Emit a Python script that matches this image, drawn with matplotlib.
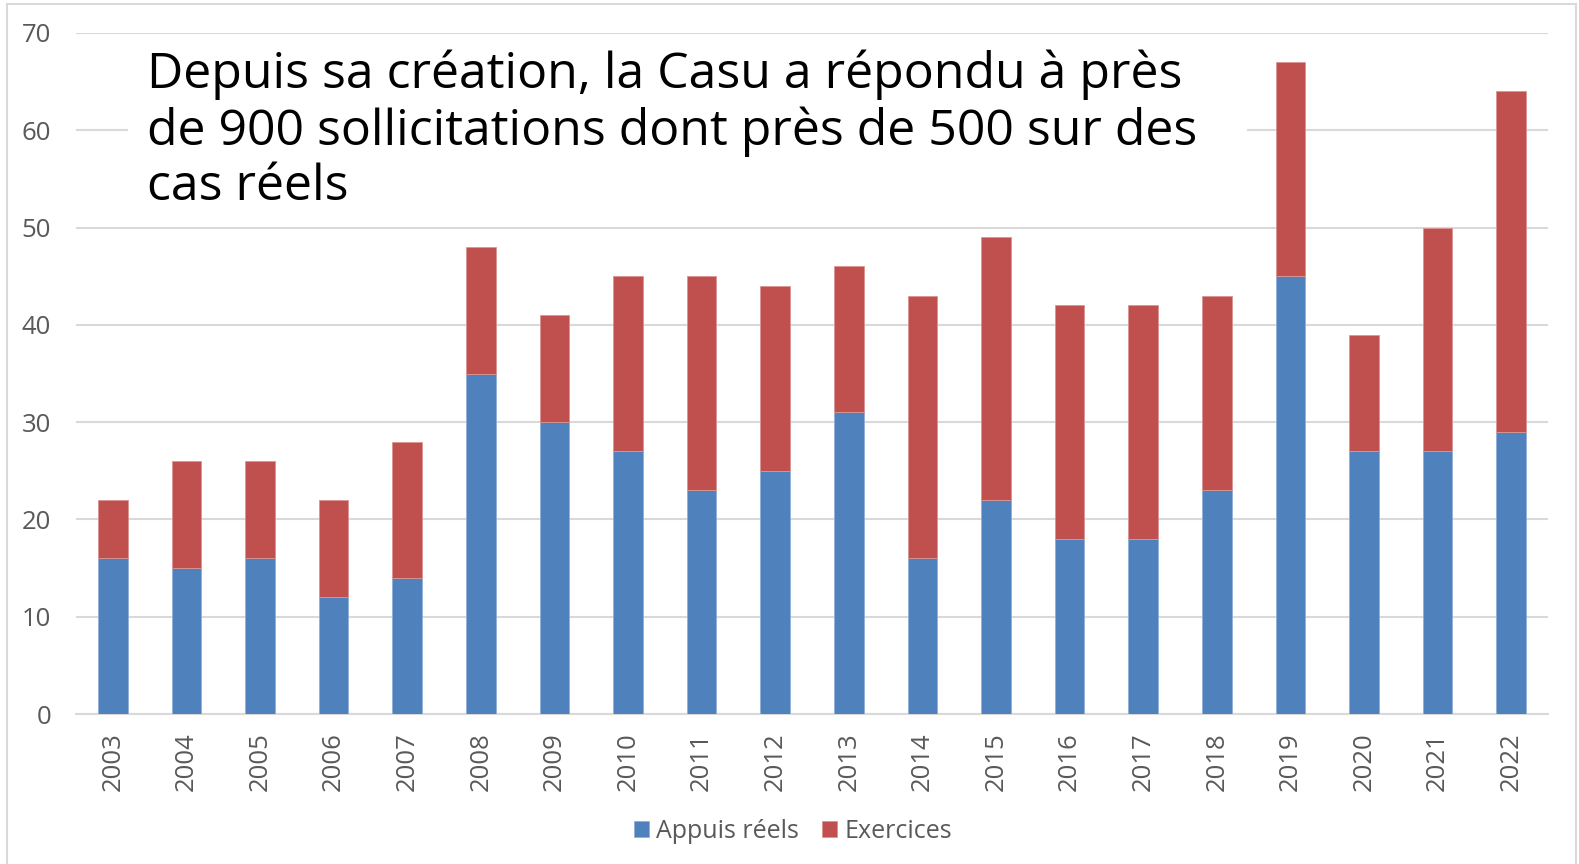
import matplotlib
matplotlib.use("Agg")
import matplotlib.pyplot as plt
from matplotlib.patches import Rectangle
import numpy as np

years = ["2003", "2004", "2005", "2006", "2007", "2008", "2009", "2010", "2011", "2012",
         "2013", "2014", "2015", "2016", "2017", "2018", "2019", "2020", "2021", "2022"]
appuis_reels = [16, 15, 16, 12, 14, 35, 30, 27, 23, 25, 31, 16, 22, 18, 18, 23, 45, 27, 27, 29]
exercices = [6, 11, 10, 10, 14, 13, 11, 18, 22, 19, 15, 27, 27, 24, 24, 20, 22, 12, 23, 35]
series_names = ["Appuis réels", "Exercices"]
y_ticks = [0, 10, 20, 30, 40, 50, 60, 70]
title = ("Depuis sa création, la Casu a répondu à près\n"
         "de 900 sollicitations dont près de 500 sur des\n"
         "cas réels")

plt.rcParams['font.family'] = ['Open Sans', 'DejaVu Sans']

W, H = 1579, 864
fig = plt.figure(figsize=(W / 100, H / 100), dpi=100)

# outer frame
fig.patches.append(Rectangle((7 / W, -0.05), (1576 - 7) / W, 1.05 - 4 / H,
                             transform=fig.transFigure, fill=False,
                             edgecolor="#d9d9d9", linewidth=1.5, zorder=0))

ax = fig.add_axes([76 / W, 150 / H, (1548 - 76) / W, (714 - 33) / H])
x = np.arange(len(years))
blue = "#4F81BD"
red = "#C0504D"
ax.bar(x, appuis_reels, width=0.4, color=blue, edgecolor="#8fb0d9", linewidth=0.6,
       label=series_names[0], zorder=3)
ax.bar(x, exercices, width=0.4, bottom=appuis_reels, color=red, edgecolor="#dc9593",
       linewidth=0.6, label=series_names[1], zorder=3)

ax.set_xlim(-0.5, len(years) - 0.5)
ax.set_ylim(0, 70)
ax.set_yticks(y_ticks)
ax.set_xticks(x)
ax.set_xticklabels(years, rotation=90)
ax.tick_params(axis="both", length=0, colors="#595959", labelsize=18.5)
ax.tick_params(axis="y", pad=18)
ax.tick_params(axis="x", pad=13)
ax.grid(axis="y", color="#d9d9d9", linewidth=1.5, zorder=0)
ax.set_axisbelow(True)
for s in ["top", "right", "left"]:
    ax.spines[s].set_visible(False)
ax.spines["bottom"].set_color("#d9d9d9")
ax.spines["bottom"].set_linewidth(1.5)

# title box
fig.patches.append(Rectangle((128 / W, 1 - 214 / H), (1247 - 128) / W, (214 - 38) / H,
                             transform=fig.transFigure, facecolor="white",
                             edgecolor="none", zorder=2))
fig.text(147 / W, 1 - 50 / H, title, ha="left", va="top", fontsize=36,
         color="black", linespacing=1.15, zorder=4)

leg = fig.legend(loc="center", bbox_to_anchor=(793 / W, 1 - 831 / H), ncol=2, frameon=False,
                 fontsize=18, handlelength=0.6, handleheight=0.6, handletextpad=0.3,
                 columnspacing=0.9, labelcolor="#595959")

fig.savefig("out.png", dpi=100)
